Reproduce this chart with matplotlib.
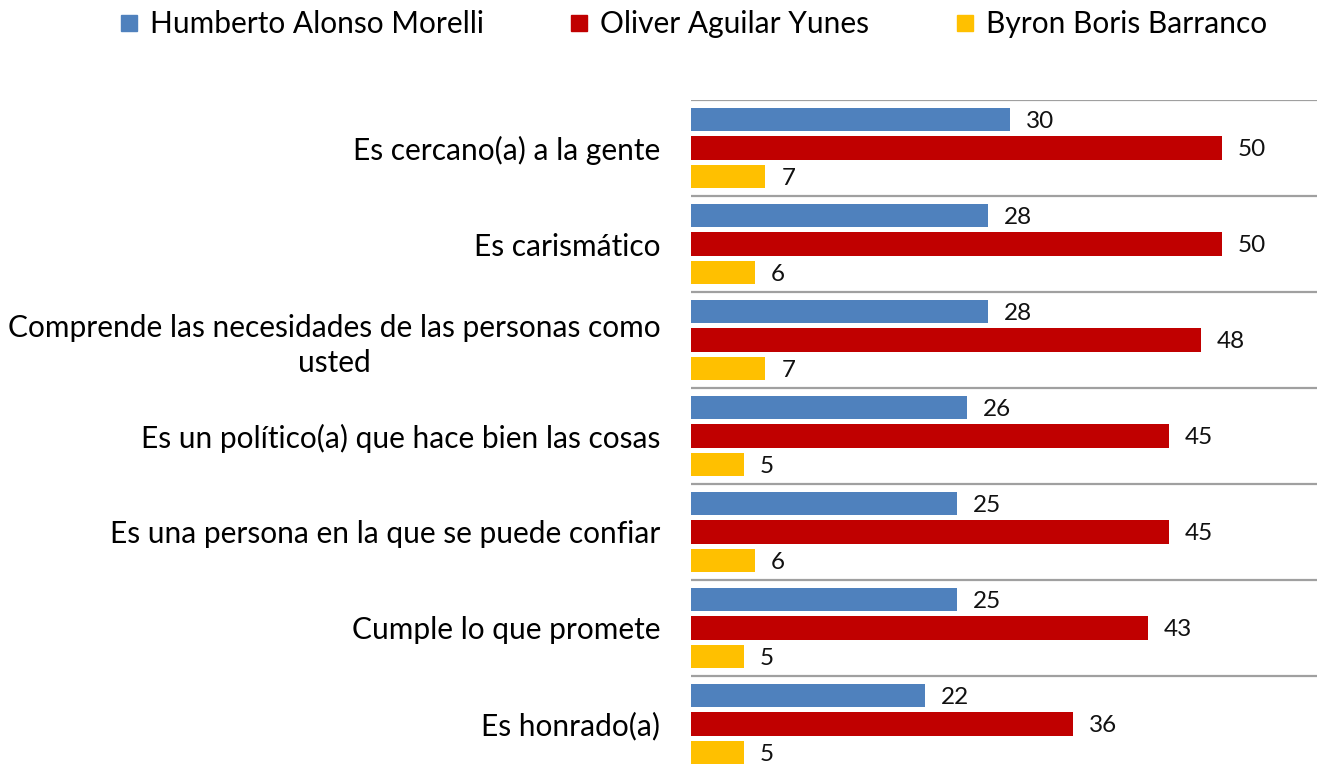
import matplotlib
matplotlib.use("Agg")
import matplotlib.pyplot as plt
import numpy as np
from matplotlib.lines import Line2D

plt.rcParams['font.family'] = ['Lato', 'DejaVu Sans']

categorias = ["Es cercano(a) a la gente",
              "Es carismático",
              "Comprende las necesidades de las personas como\nusted",
              "Es un político(a) que hace bien las cosas",
              "Es una persona en la que se puede confiar",
              "Cumple lo que promete",
              "Es honrado(a)"]
series = ["Humberto Alonso Morelli", "Oliver Aguilar Yunes", "Byron Boris Barranco"]
humberto = [30, 28, 28, 26, 25, 25, 22]
oliver = [50, 50, 48, 45, 45, 43, 36]
byron = [7, 6, 7, 5, 6, 5, 5]
colores = ["#4F81BD", "#C00000", "#FFC000"]

fig = plt.figure(figsize=(13.17, 7.66), dpi=100)
ax = fig.add_axes([691/1317, -6/766, 626/1317, 672/766])

y = np.arange(len(categorias))
offsets = [-0.30, 0.0, 0.30]
for vals, off, col in zip([humberto, oliver, byron], offsets, colores):
    bars = ax.barh(y + off, vals, height=0.24, color=col)
    for b, v in zip(bars, vals):
        ax.text(b.get_width() + 1.5, b.get_y() + b.get_height()/2 + 0.02, str(v),
                va='center', ha='left', fontsize=17.5, color='#111111')

ax.set_ylim(len(categorias) - 0.5, -0.5)
ax.set_xlim(0, 626/10.62)
ax.set_yticks(y)
ax.set_yticklabels(categorias, fontsize=21.5, multialignment='center',
                   linespacing=1.3)
ax.tick_params(axis='y', length=0, pad=22)
ax.set_xticks([])
for b in np.arange(-0.5, len(categorias) + 0.5, 1):
    ax.axhline(b, color='#a0a0a0', lw=1.6)
for s in ax.spines.values():
    s.set_visible(False)

handles = [Line2D([], [], marker='s', ls='', color=c, markersize=11.5) for c in colores]
fig.legend(handles, series, loc='center', bbox_to_anchor=(692/1317, 1 - 24/766),
           ncol=3, frameon=False, fontsize=21.5, handletextpad=0.3,
           columnspacing=2.8, handlelength=0.8)

fig.savefig("out.png", dpi=100)
